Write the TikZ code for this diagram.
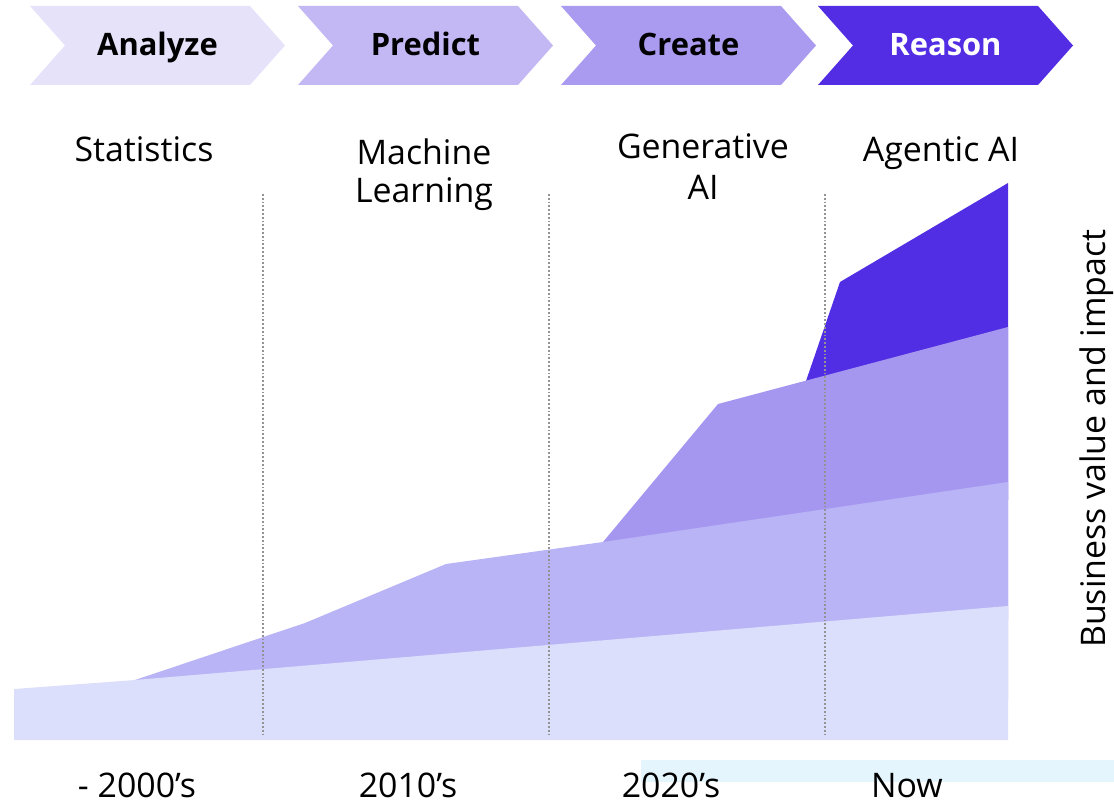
\documentclass[tikz,border=0pt]{standalone}
\usepackage{fontspec}
\setmainfont{Open Sans}

\definecolor{stageA}{HTML}{E6E2FA}
\definecolor{stageB}{HTML}{C3B8F4}
\definecolor{stageC}{HTML}{AB9BF0}
\definecolor{stageD}{HTML}{522DE3}
\definecolor{areaA}{HTML}{DCDFFB}
\definecolor{areaB}{HTML}{B9B4F6}
\definecolor{areaC}{HTML}{A597F0}
\definecolor{areaD}{HTML}{512EE3}
\definecolor{barblue}{HTML}{E4F5FD}

\tikzset{
  stage/.style={font=\fontsize{31}{36}\selectfont\bfseries, inner sep=0pt, anchor=base},
  era/.style={font=\fontsize{34}{38}\selectfont, inner sep=0pt, align=center},
  divider/.style={gray!85, line width=1.8bp, dash pattern=on 1.8bp off 2bp},
}

\begin{document}
\begin{tikzpicture}[x=1bp, y=-1bp]
    \useasboundingbox (0,0) rectangle (1114,804);
    % the four stages
    \foreach \x/\shade/\txt/\ink in {30/stageA/Analyze/black, 298/stageB/Predict/black, 561/stageC/Create/black, 818/stageD/Reason/white}{
        \fill[\shade] (\x,6) -- ++(220,0) -- ++(35,39.5) -- ++(-35,39.5) -- ++(-220,0) -- ++(35,-39.5) -- cycle;
        \node[stage, text=\ink] (\txt) at (\x+127.5,56) {\txt};
    }
    % stacked areas, darkest first
    \fill[areaD] (806,381) -- (840,282) -- (1008,183) -- (1008,500) -- (806,500) -- cycle;
    \fill[areaC] (603,542) -- (718,404) -- (1008,327) -- (1008,620) -- (603,620) -- cycle;
    \fill[areaB] (135,680) -- (305,623) -- (446,564) -- (603,542) -- (1008,482) -- (1008,700) -- (135,700) -- cycle;
    \fill[areaA] (14,689) -- (135,680) -- (1008,606) -- (1008,740) -- (14,740) -- cycle;
    \foreach \x in {263,549,825}
        \draw[divider] (\x,194) -- (\x,736);
    \fill[barblue] (641,760) rectangle (1114,782);
    % eras
    \node[era, anchor=base] (stats) at (144,161) {Statistics};
    \node[era, anchor=north] (ml) at (424,139) {Machine\\Learning};
    \node[era, anchor=north, font=\fontsize{34}{42}\selectfont] (genai) at (703,133) {Generative\\AI};
    \node[era, anchor=base] (agentic) at (941,161) {Agentic AI};
    % time axis
    \node[era, anchor=base] (y2000) at (137,797) {- 2000’s};
    \node[era, anchor=base] (y2010) at (408,797) {2010’s};
    \node[era, anchor=base] (y2020) at (671,797) {2020’s};
    \node[era, anchor=base] (now) at (907,797) {Now};
    \node[era, rotate=90, anchor=base west] (value) at (1105,648) {Business value and impact};
\end{tikzpicture}
\end{document}
